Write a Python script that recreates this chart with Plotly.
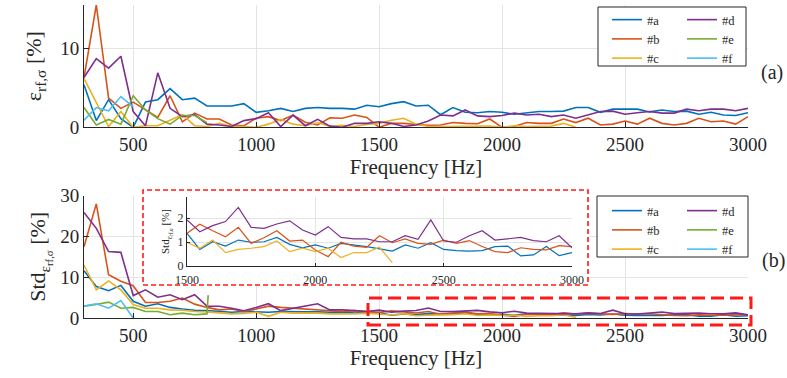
import plotly.graph_objects as go

# Frequency grid of the measurements [Hz]
freq = list(range(300, 3001, 50))
freq_to_2300 = list(range(300, 2301, 50))
freq_to_800 = list(range(300, 801, 50))
freq_to_500 = list(range(300, 501, 50))
freq_e_std = list(range(300, 801, 50)) + [805]

# (a) relative error eps_rf,sigma [%]
err_a = [5.4, 0.85, 3.5, 1.1, 0.0, 3.2, 3.5, 4.9, 3.5, 3.7, 2.7, 2.7, 2.7, 3.0, 1.9,
         2.1, 2.4, 2.0, 2.4, 2.5, 2.4, 2.4, 2.3, 2.8, 2.6,
         3.0, 3.25, 2.7, 2.8, 1.6, 2.5, 1.9, 1.85, 2.0, 1.9,
         1.65, 1.8, 2.0, 2.0, 2.05, 2.5, 2.5, 1.9, 2.3, 2.3,
         2.3, 1.95, 2.2, 2.0, 2.05, 1.65, 1.9, 1.55, 1.5, 1.85]
err_b = [6.3, 15.5, 3.7, 2.4, 3.2, 2.2, 1.25, 4.0, 0.7, 1.8, 1.05, 1.05, 0.3, 0.2, 1.15,
         1.35, 0.85, 1.55, 0.65, 0.3, 1.2, 1.15, 1.55, 1.25, 0.0,
         0.5, 0.5, 0.35, 0.25, 0.3, 0.6, 0.5, 0.45, 1.05, 0.0,
         0.1, 0.6, 0.5, 0.5, 1.05, 0.6, 1.15, 0.3, 0.4, 0.8,
         0.4, 1.15, 0.5, 0.3, 0.5, 1.15, 0.7, 0.8, 0.4, 1.35]
err_c = [6.2, 3.2, 0.1, 2.0, 0.0, 0.2, 0.2, 0.9, 1.6, 0.2, 0.1, 0.5, 0.1, 0.1, 0.0,
         0.4, 1.0, 0.4, 0.2, 0.6, 0.1, 0.25, 0.1, 0.35, 0.5,
         0.9, 1.15, 0.4, 0.1, 0.1, 0.1, 0.1, 0.15, 0.15, 0.0,
         0.2, 0.1, 0.15, 0.15, 0.5, 0.0]
err_d = [6.3, 8.7, 7.5, 9.0, 2.0, 0.2, 6.9, 2.4, 1.35, 1.6, 0.4, 0.3, 0.1, 0.85, 1.1,
         1.85, 0.1, 1.55, 0.2, 1.0, 0.15, 0.0, 0.5, 0.5, 0.7,
         0.5, 0.1, 0.3, 0.8, 1.55, 1.45, 2.2, 1.45, 1.35, 1.5,
         1.8, 1.55, 1.65, 1.35, 1.55, 1.15, 1.55, 2.0, 2.05, 1.65,
         1.85, 2.0, 1.8, 1.8, 2.3, 2.1, 2.3, 2.3, 2.1, 2.4]
err_e = [2.5, 0.3, 1.0, 0.4, 4.0, 2.2, 1.1, 0.4, 1.5, 1.5, 0.6]
err_f = [0.9, 2.5, 2.1, 3.9, 2.6]

# (b) standard deviation of eps_rf,sigma [%]
std_a = [11.6, 7.7, 6.7, 8.0, 4.1, 2.9, 3.5, 2.6, 2.2, 1.9, 1.8, 1.6, 1.4, 1.6, 1.5,
         1.4, 1.6, 1.5, 1.5, 1.5, 1.4, 1.5, 1.2, 1.4,
         1.36, 0.69, 1.01, 0.83, 1.08, 0.99, 1.01, 1.19, 0.9, 0.76,
         0.88, 0.74, 0.94, 0.88, 0.81, 0.71, 0.62, 0.88, 0.74, 0.97,
         0.69, 0.64, 0.62, 0.64, 0.81, 0.83, 0.42, 0.46, 0.81, 0.43, 0.56]
std_b = [17.5, 28.0, 10.6, 9.0, 7.9, 3.8, 3.8, 4.1, 4.9, 3.4, 2.6, 2.0, 2.2, 1.6, 2.2,
         2.9, 2.6, 2.4, 2.2, 2.0, 1.8, 1.6, 1.8, 1.6,
         1.36, 1.74, 1.47, 1.22, 1.61, 0.94, 1.18, 1.47, 1.04, 1.08,
         0.67, 0.39, 0.99, 0.83, 0.78, 1.26, 0.97, 1.13, 0.94, 0.9,
         1.08, 0.94, 1.06, 0.81, 0.6, 0.56, 0.76, 0.69, 0.67, 0.85, 0.81]
std_c = [13.0, 6.9, 9.1, 6.9, 3.3, 2.4, 2.4, 2.0, 1.9, 1.6, 1.5, 1.2, 1.0, 1.1, 1.4,
         0.4, 1.4, 1.2, 1.2, 1.2, 1.0, 1.0, 1.0, 1.2,
         0.99, 0.74, 1.08, 0.56, 0.69, 0.74, 0.81, 1.04, 0.6, 0.74,
         0.6, 0.74, 0.35, 0.56, 0.56, 0.78, 0.14]
std_d = [25.9, 22.0, 16.3, 16.1, 5.5, 6.9, 5.1, 5.7, 4.5, 5.7, 2.9, 2.9, 2.4, 1.8, 2.6,
         3.5, 1.8, 2.4, 2.9, 3.5, 2.0, 2.0, 1.8, 1.6,
         1.92, 1.43, 1.68, 1.85, 2.44, 1.61, 1.57, 1.75, 1.88, 1.5,
         1.29, 1.64, 1.19, 1.13, 1.13, 1.01, 1.01, 1.26, 1.11, 1.92,
         1.04, 0.99, 1.26, 1.47, 1.08, 1.15, 1.19, 1.06, 1.01, 1.26, 0.76]
std_e = [2.9, 3.3, 3.9, 2.4, 2.6, 1.6, 1.6, 0.8, 1.2, 0.8, 1.0, 5.6]
std_f = [2.9, 3.5, 2.4, 4.3, 0.0]

names = ["#a", "#b", "#c", "#d", "#e", "#f"]
colors = ["#0072BD", "#D95319", "#EDB120", "#7E2F8E", "#77AC30", "#4DBEEE"]

x_tick_main = [500, 1000, 1500, 2000, 2500, 3000]
x_tick_inset = [1500, 2000, 2500, 3000]

series_a = [(freq, err_a), (freq, err_b), (freq_to_2300, err_c),
            (freq, err_d), (freq_to_800, err_e), (freq_to_500, err_f)]
series_b = [(freq, std_a), (freq, std_b), (freq_to_2300, std_c),
            (freq, std_d), (freq_e_std, std_e), (freq_to_500, std_f)]

SERIF = "Liberation Serif, Times New Roman, Tinos, DejaVu Serif, serif"
INK = "#262626"
GRID = "#e4e4e4"

fig = go.Figure()

for i, (xs, ys) in enumerate(series_a):
    fig.add_trace(go.Scatter(
        x=xs, y=ys, mode="lines", name=names[i],
        line=dict(color=colors[i], width=1.6),
        xaxis="x", yaxis="y",
        legend="legend" if i < 3 else "legend2"))

for i, (xs, ys) in enumerate(series_b):
    fig.add_trace(go.Scatter(
        x=xs, y=ys, mode="lines", name=names[i],
        line=dict(color=colors[i], width=1.6),
        xaxis="x2", yaxis="y2",
        legend="legend3" if i < 3 else "legend4"))

# empty pane that blanks the area behind the zoomed inset
fig.add_trace(go.Scatter(x=[], y=[], xaxis="x3", yaxis="y3",
                         showlegend=False, hoverinfo="skip"))

# zoomed inset of (b), 1500-3000 Hz
for i, (xs, ys) in enumerate(series_b[:4]):
    fig.add_trace(go.Scatter(
        x=xs, y=ys, mode="lines", name=names[i], showlegend=False,
        line=dict(color=colors[i], width=1.2),
        xaxis="x4", yaxis="y4"))

W, H = 787, 378
ML, MR, MT, MB = 84, 39, 5, 60
PW, PH = W - ML - MR, H - MT - MB


def px_x(p):
    return (p - ML) / PW


def px_y(p):
    return (H - MB - p) / PH


axis_common = dict(
    showline=True, linecolor=INK, linewidth=1,
    ticks="inside", ticklen=5, tickcolor=INK,
    showgrid=True, gridcolor=GRID, gridwidth=1,
    zeroline=False, mirror=False, automargin=False,
    tickfont=dict(family=SERIF, size=19, color=INK),
)

fig.update_layout(
    width=W, height=H,
    margin=dict(l=ML, r=MR, t=MT, b=MB, autoexpand=False),
    paper_bgcolor="white", plot_bgcolor="#ffffff",
    font=dict(family=SERIF, color=INK),
    xaxis=dict(axis_common, domain=[0, 1], anchor="y", range=[300, 3000],
               tickvals=x_tick_main,
               title=dict(text="Frequency [Hz]", font=dict(family=SERIF, size=21), standoff=4)),
    yaxis=dict(axis_common, domain=[px_y(127.3), 1], anchor="x", range=[0, 15.5],
               tickvals=[0, 10],
               title=dict(text="ε<sub>rf,σ</sub> [%]", font=dict(family=SERIF, size=22), standoff=12)),
    xaxis2=dict(axis_common, domain=[0, 1], anchor="y2", range=[300, 3000],
                tickvals=x_tick_main,
                title=dict(text="Frequency [Hz]", font=dict(family=SERIF, size=21), standoff=4)),
    yaxis2=dict(axis_common, domain=[0, px_y(195.7)], anchor="x2", range=[0, 30],
                tickvals=[0, 10, 20, 30],
                title=dict(text="Std<sub>ε<sub>rf,σ</sub></sub> [%]",
                           font=dict(family=SERIF, size=22), standoff=8)),
    xaxis3=dict(domain=[px_x(143), px_x(588)], anchor="y3", visible=False,
                showgrid=False, zeroline=False),
    yaxis3=dict(domain=[px_y(285), px_y(190)], anchor="x3", visible=False,
                showgrid=False, zeroline=False),
    xaxis4=dict(axis_common, domain=[px_x(187), px_x(572)], anchor="y4",
                range=[1500, 3000], tickvals=x_tick_inset, ticklen=3,
                ticklabelstandoff=3,
                tickfont=dict(family=SERIF, size=12, color=INK)),
    yaxis4=dict(axis_common, domain=[px_y(266), px_y(197)], anchor="x4",
                range=[0, 2.875], tickvals=[0, 1, 2], ticklen=3,
                tickfont=dict(family=SERIF, size=12, color=INK),
                title=dict(text="Std<sub>ε<sub>rf,σ</sub></sub> [%]",
                           font=dict(family=SERIF, size=11), standoff=5)),
    showlegend=True,
)

legend_style = dict(bgcolor="rgba(0,0,0,0)", borderwidth=0,
                    font=dict(family=SERIF, size=12.5, color=INK),
                    orientation="v", xanchor="left", yanchor="top",
                    tracegroupgap=0)
fig.update_layout(
    legend=dict(legend_style, x=px_x(607), y=px_y(5)),
    legend2=dict(legend_style, x=px_x(682), y=px_y(5)),
    legend3=dict(legend_style, x=px_x(607), y=px_y(196)),
    legend4=dict(legend_style, x=px_x(682), y=px_y(196)),
)

shapes = [
    # legend frames
    dict(type="rect", xref="paper", yref="paper",
         x0=px_x(598), x1=px_x(746), y0=px_y(66), y1=px_y(7),
         line=dict(color=INK, width=1), fillcolor="white", layer="above"),
    dict(type="rect", xref="paper", yref="paper",
         x0=px_x(597), x1=px_x(748), y0=px_y(257), y1=px_y(196),
         line=dict(color=INK, width=1), fillcolor="white", layer="above"),
    # frame around the inset
    dict(type="rect", xref="paper", yref="paper",
         x0=px_x(143), x1=px_x(588), y0=px_y(285), y1=px_y(190),
         line=dict(color="#ff1a1a", width=1.6, dash="5px,3px"), layer="above"),
    # region of (b) shown in the inset
    dict(type="rect", xref="paper", yref="paper",
         x0=px_x(368), x1=px_x(751), y0=px_y(325), y1=px_y(298),
         line=dict(color="#ff1a1a", width=3, dash="13px,6px"), layer="above"),
]
fig.update_layout(shapes=shapes)

fig.add_annotation(text="(a)", xref="paper", yref="paper",
                   x=px_x(772), y=px_y(72), showarrow=False,
                   xanchor="center", yanchor="middle",
                   font=dict(family=SERIF, size=20, color=INK))
fig.add_annotation(text="(b)", xref="paper", yref="paper",
                   x=px_x(773), y=px_y(260), showarrow=False,
                   xanchor="center", yanchor="middle",
                   font=dict(family=SERIF, size=20, color=INK))

fig.write_html("out.html")
